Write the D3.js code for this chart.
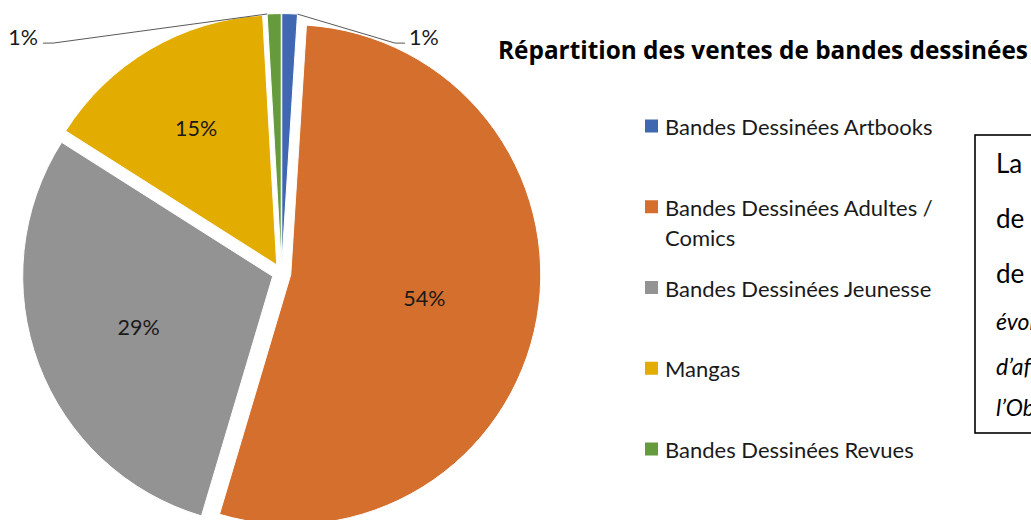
<!DOCTYPE html>
<html><head><meta charset="utf-8">
<script src="https://cdn.jsdelivr.net/npm/d3@7"></script>
<style>html,body{margin:0;padding:0;background:#fff;overflow:hidden}</style>
</head><body>
<svg id="chart" width="1031" height="520"></svg>
<script>
// ---- data ----
const categories = ["Bandes Dessinées Artbooks", "Bandes Dessinées Adultes / Comics", "Bandes Dessinées Jeunesse", "Mangas", "Bandes Dessinées Revues"];
const values = [1.0, 53.6, 29.4, 15.1, 0.9];
const colors = ["#4068B2", "#D46F2D", "#939393", "#E3AC00", "#659A3D"];
const titleText = "Répartition des ventes de bandes dessinées";
const noteLines = ["La", "de", "de"];
const noteSource = ["évolution", "d’affaires", "l’Observatoire"];

// ---- layout ----
const W = 1031, H = 520;
const cx = 281.5, cy = 273, R = 250, explode = 9.4;
const FONT = "Lato, 'Open Sans', sans-serif";
const svg = d3.select("#chart");
svg.append("rect").attr("width", W).attr("height", H).attr("fill", "#fff");

const total = d3.sum(values);
const pct = d3.format(".0%");
const pie = d3.pie().sort(null).value(d => d).startAngle(0).endAngle(2 * Math.PI);
const arcs = pie(values);
const arc = d3.arc().innerRadius(0).outerRadius(R);
const unit = a => [Math.sin(a), -Math.cos(a)];

const g = svg.append("g").attr("transform", `translate(${cx},${cy})`);
const slices = g.selectAll("g.slice").data(arcs).join("g")
  .attr("class", "slice")
  .attr("transform", d => {
    const m = (d.startAngle + d.endAngle) / 2, u = unit(m);
    return `translate(${u[0] * explode},${u[1] * explode})`;
  });
slices.append("path").attr("d", arc)
  .attr("fill", (d, i) => colors[i])
  .attr("stroke", "#fff").attr("stroke-width", 1);

// inside labels: narrower slices push the label further out (best fit)
arcs.forEach((d, i) => {
  const share = d.value / total;
  const span = d.endAngle - d.startAngle;
  const m = (d.startAngle + d.endAngle) / 2, u = unit(m);
  if (share >= 0.05) {
    const r = R * (0.543 + 0.125 / span);
    g.append("text")
      .attr("x", u[0] * r).attr("y", u[1] * r)
      .attr("text-anchor", "middle").attr("dominant-baseline", "central")
      .attr("font-family", FONT).attr("font-size", 21.5).attr("fill", "#1a1a1a")
      .text(pct(share));
  }
});

// outside labels with leader lines (small slices)
const outside = arcs.map((d, i) => ({ d, i, share: d.value / total })).filter(o => o.share < 0.05);
outside.forEach(o => {
  const m = (o.d.startAngle + o.d.endAngle) / 2, u = unit(m);
  const right = (m < Math.PI);
  const edgeA = right ? o.d.endAngle : o.d.startAngle;
  const ue = unit(edgeA);
  const px = u[0] * explode + ue[0] * R, py = u[1] * explode + ue[1] * R;
  const labelY = -R - explode + 31;
  const lineY = labelY - 1.5;
  const textX = right ? 0.51 * R : -0.974 * R;
  const elbowX = right ? textX - 14 : textX + 15;
  const endX = right ? textX - 4 : textX + 5;
  g.append("polyline")
    .attr("points", [[px, py], [elbowX, lineY], [endX, lineY]].map(p => p.join(",")).join(" "))
    .attr("fill", "none").attr("stroke", "#595959").attr("stroke-width", 1);
  g.append("text")
    .attr("x", textX).attr("y", labelY)
    .attr("text-anchor", right ? "start" : "end")
    .attr("font-family", FONT).attr("font-size", 21.5).attr("fill", "#1a1a1a")
    .text(pct(o.share));
});

// title (fitted to the reference's width)
const title = svg.append("text").attr("x", 498).attr("y", 59)
  .attr("font-family", "'Open Sans', Lato, sans-serif").attr("font-weight", "bold").attr("font-size", 24)
  .attr("fill", "#000").text(titleText);
const tw = title.node().getComputedTextLength();
title.attr("font-size", 24 * 530 / tw);

// legend
const legendX = 645, legendY0 = 126, legendStep = 80.75, lineH = 30, wrapW = 285;
const lg = svg.append("g");
categories.forEach((c, i) => {
  const y = legendY0 + i * legendStep;
  lg.append("rect").attr("x", legendX).attr("y", y - 6.5).attr("width", 13).attr("height", 13).attr("fill", colors[i]);
  const t = lg.append("text").attr("x", legendX + 20).attr("y", y)
    .attr("dominant-baseline", "central")
    .attr("font-family", FONT).attr("font-size", 22).attr("fill", "#1a1a1a");
  const words = c.split(" ");
  let line = [];
  let ts = t.append("tspan").attr("x", legendX + 20).attr("dy", 0);
  words.forEach(w => {
    line.push(w);
    ts.text(line.join(" "));
    if (ts.node().getComputedTextLength() > wrapW && line.length > 1) {
      line.pop(); ts.text(line.join(" "));
      line = [w];
      ts = t.append("tspan").attr("x", legendX + 20).attr("dy", lineH).text(w);
    }
  });
});

// note box (cut by the right edge, as in the reference)
svg.append("rect").attr("x", 975).attr("y", 135).attr("width", 120).attr("height", 298)
  .attr("fill", "#fff").attr("stroke", "#000").attr("stroke-width", 1.6);
const noteBase = [173, 228, 283];
noteLines.forEach((s, i) => {
  svg.append("text").attr("x", 996).attr("y", noteBase[i])
    .attr("font-family", FONT).attr("font-size", 26).attr("fill", "#000").text(s);
});
const srcBase = [330, 375, 416];
noteSource.forEach((s, i) => {
  svg.append("text").attr("x", 996).attr("y", srcBase[i])
    .attr("font-family", FONT).attr("font-style", "italic").attr("font-size", 23).attr("fill", "#000").text(s);
});
</script>
</body></html>
